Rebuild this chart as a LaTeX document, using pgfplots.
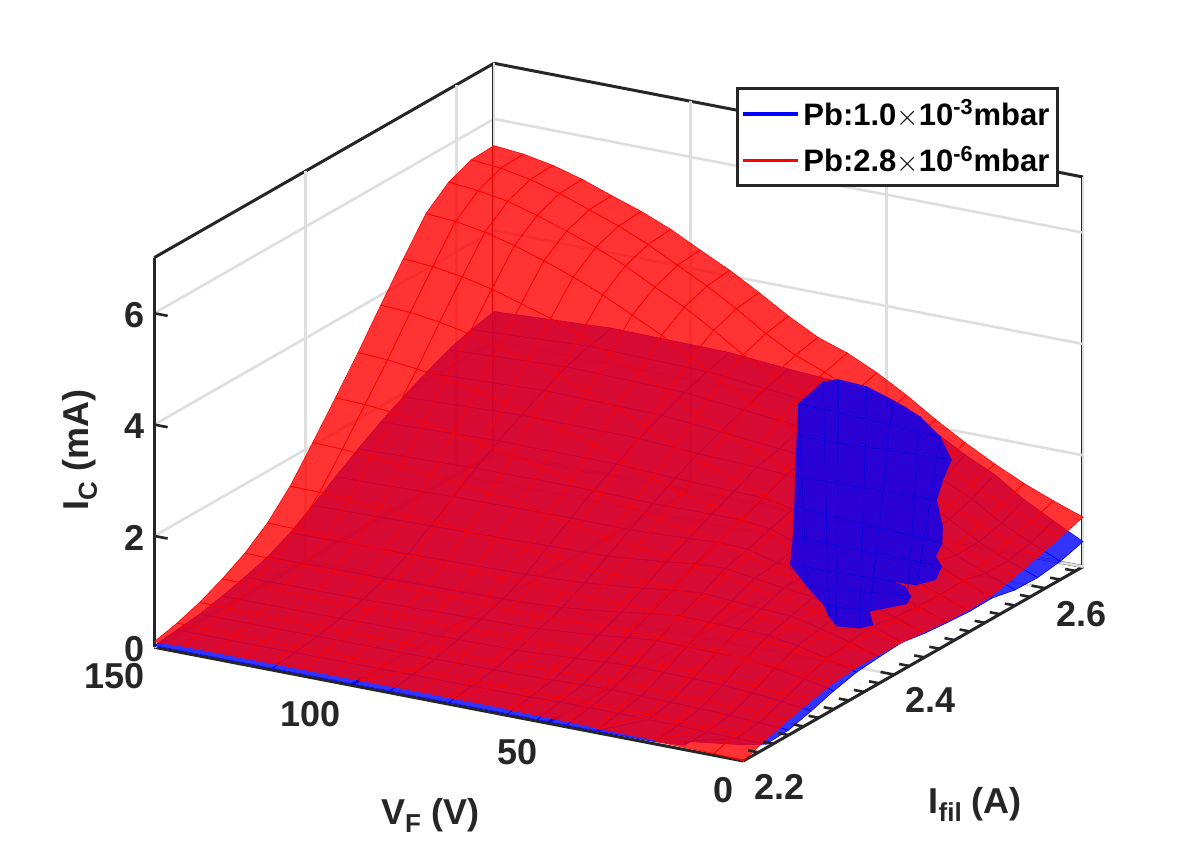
\documentclass[border=0pt]{standalone}
\usepackage{fontspec}
\setmainfont{Liberation Sans}
\usepackage{pgfplots}
\usepackage{pgfplotstable}
\pgfplotsset{compat=1.18}
\definecolor{axc}{RGB}{38,38,38}
\newcommand\sub[1]{\raisebox{-.42ex}{\fontsize{13pt}{13pt}\selectfont #1}}
% Red surface: z at V=150,142.5,...,0 (rows), I=2.20,2.23,...,2.65 (16 values per row)
\pgfplotstableread[row sep=\\,header=false]{
.10\\.20\\.34\\.53\\.76\\1.07\\1.50\\2.05\\2.62\\3.20\\3.82\\4.42\\5.00\\5.33\\5.50\\5.52\\
.12\\.20\\.34\\.53\\.75\\1.06\\1.49\\2.03\\2.60\\3.17\\3.79\\4.38\\4.96\\5.28\\5.45\\5.47\\
.12\\.19\\.33\\.52\\.74\\1.04\\1.46\\1.99\\2.55\\3.11\\3.72\\4.30\\4.87\\5.19\\5.35\\5.37\\
.12\\.19\\.32\\.50\\.72\\1.01\\1.42\\1.94\\2.48\\3.03\\3.61\\4.18\\4.73\\5.04\\5.20\\5.22\\
.12\\.19\\.32\\.49\\.70\\.98\\1.37\\1.87\\2.39\\2.92\\3.48\\4.02\\4.56\\4.86\\5.01\\5.03\\
.12\\.19\\.32\\.49\\.70\\.97\\1.34\\1.81\\2.31\\2.80\\3.34\\3.86\\4.37\\4.67\\4.82\\4.85\\
.12\\.19\\.32\\.49\\.69\\.94\\1.30\\1.74\\2.20\\2.67\\3.17\\3.66\\4.15\\4.44\\4.59\\4.63\\
.12\\.18\\.32\\.48\\.68\\.92\\1.24\\1.65\\2.08\\2.51\\2.97\\3.43\\3.89\\4.16\\4.32\\4.36\\
.12\\.18\\.32\\.48\\.67\\.90\\1.20\\1.57\\1.96\\2.35\\2.78\\3.19\\3.63\\3.90\\4.05\\4.10\\
.12\\.18\\.32\\.48\\.66\\.87\\1.14\\1.47\\1.82\\2.17\\2.55\\2.93\\3.33\\3.59\\3.74\\3.80\\
.12\\.18\\.32\\.48\\.65\\.84\\1.08\\1.37\\1.67\\1.97\\2.30\\2.64\\3.01\\3.25\\3.40\\3.48\\
.12\\.19\\.33\\.49\\.66\\.83\\1.03\\1.29\\1.55\\1.80\\2.09\\2.38\\2.73\\2.96\\3.11\\3.20\\
.12\\.20\\.35\\.51\\.68\\.84\\1.02\\1.24\\1.46\\1.68\\1.93\\2.20\\2.52\\2.76\\2.91\\3.02\\
.11\\.20\\.36\\.53\\.69\\.83\\.99\\1.17\\1.35\\1.52\\1.73\\1.96\\2.26\\2.49\\2.65\\2.77\\
.10\\.20\\.36\\.53\\.68\\.81\\.93\\1.08\\1.21\\1.34\\1.50\\1.70\\1.96\\2.18\\2.34\\2.47\\
.09\\.20\\.35\\.51\\.65\\.76\\.85\\.96\\1.05\\1.14\\1.26\\1.41\\1.64\\1.84\\1.99\\2.13\\
.08\\.19\\.34\\.50\\.63\\.71\\.78\\.85\\.91\\.95\\1.03\\1.15\\1.34\\1.53\\1.68\\1.82\\
.07\\.18\\.33\\.47\\.59\\.66\\.71\\.75\\.77\\.79\\.84\\.92\\1.09\\1.26\\1.40\\1.54\\
.05\\.17\\.31\\.45\\.56\\.61\\.64\\.66\\.66\\.65\\.67\\.72\\.86\\1.02\\1.15\\1.29\\
.03\\.16\\.30\\.42\\.52\\.57\\.58\\.58\\.55\\.52\\.52\\.56\\.68\\.82\\.94\\1.08\\
0\\.15\\.28\\.39\\.48\\.52\\.52\\.50\\.46\\.42\\.40\\.42\\.52\\.64\\.76\\.89\\
}\redtable
% Blue surface: rows at V=150,120,90,75,60,52.5,45,37.5,30,22.5,15,7.5,0
\pgfplotstableread[row sep=\\,header=false]{
.03\\.08\\.13\\.22\\.33\\.46\\.66\\.92\\1.20\\1.47\\1.72\\1.94\\2.14\\2.32\\2.45\\2.54\\
.03\\.08\\.14\\.23\\.34\\.48\\.69\\.96\\1.25\\1.53\\1.79\\2.02\\2.23\\2.42\\2.56\\2.65\\
.03\\.09\\.14\\.26\\.39\\.52\\.73\\1.01\\1.28\\1.54\\1.78\\2.01\\2.19\\2.37\\2.51\\2.62\\
.03\\.09\\.15\\.27\\.42\\.57\\.78\\1.03\\1.27\\1.51\\1.73\\1.94\\2.10\\2.26\\2.41\\2.53\\
.03\\.10\\.17\\.33\\.51\\.69\\.89\\1.13\\1.32\\1.52\\1.70\\1.90\\2.00\\2.15\\2.30\\2.46\\
.03\\.11\\.19\\.36\\.57\\.77\\.96\\1.20\\1.35\\1.52\\1.68\\1.87\\1.94\\2.07\\2.22\\2.41\\
.03\\.11\\.20\\.39\\.62\\.83\\1.01\\1.22\\1.33\\1.46\\1.59\\1.75\\1.78\\1.89\\2.05\\2.25\\
.03\\.11\\.19\\.38\\.61\\.82\\.97\\1.14\\1.19\\1.28\\1.36\\1.49\\1.47\\1.54\\1.69\\1.90\\
.03\\.10\\.18\\.37\\.60\\.80\\.93\\1.07\\1.08\\1.12\\1.16\\1.26\\1.20\\1.26\\1.39\\1.60\\
.04\\.10\\.17\\.36\\.60\\.79\\.90\\1.01\\.98\\.99\\1.00\\1.07\\.98\\1.01\\1.14\\1.35\\
.08\\.08\\.15\\.32\\.53\\.70\\.78\\.86\\.79\\.77\\.76\\.80\\.70\\.71\\.81\\1.00\\
.15\\.07\\.12\\.27\\.44\\.58\\.64\\.70\\.62\\.59\\.56\\.58\\.48\\.47\\.56\\.72\\
.29\\.07\\.09\\.20\\.33\\.43\\.47\\.50\\.43\\.39\\.36\\.37\\.28\\.27\\.33\\.45\\
}\bluetable
\begin{document}
\begin{tikzpicture}
\path[use as bounding box] (0,0) rectangle (598pt,427pt);
\begin{axis}[
  at={(309.325pt,220.925pt)},anchor=center,
  x dir=reverse,
  x={(1.9633pt,-0.379pt)},y={(377.44pt,215.89pt)},z={(0pt,27.835pt)},
  xmin=0,xmax=150,ymin=2.2,ymax=2.65,zmin=0,zmax=7,
  xtick={0,50,100,150},ytick={2.2,2.4,2.6},ztick={0,2,4,6},
  yticklabel style={/pgf/number format/fixed,/pgf/number format/fixed zerofill,/pgf/number format/precision=1},
  /pgf/number format/assume math mode=true,
  font=\bfseries\fontsize{18pt}{20pt}\selectfont,
  clip=false,
  grid=major,
  major grid style={line width=1.3pt,color=black!13},
  axis line style={line width=1.5pt,color=axc},
  tick style={draw=none},
  every tick label/.append style={text=axc},
  x tick label style={anchor=north east,xshift=-1.3pt,yshift=-4.5pt},
  y tick label style={xshift=7.5pt},
  z tick label style={xshift=-1.5pt,yshift=.5pt},
  every axis x label/.style={at={(axis description cs:.297,-.0774)},anchor=center,text=axc},
  every axis y label/.style={at={(axis description cs:.884,-.063)},anchor=center,text=axc},
  every axis z label/.style={at={(axis description cs:-.080,.4456)},anchor=center,rotate=90,text=axc},
  xlabel={V\sub{F} (V)},ylabel={I\sub{fil} (A)},zlabel={I\sub{C} (mA)},
  legend style={at={(axis description cs:.9741,.9656)},anchor=north east,draw=axc,line width=1.5pt,
    fill=white,font=\bfseries\fontsize{15.5pt}{18pt}\selectfont,row sep=5pt,inner xsep=2pt,inner ysep=3.5pt},
  legend cell align=left,
  legend image code/.code={\draw[#1,line width=1.6pt] (0pt,0pt)--(27.5pt,0pt);},
]
\addlegendimage{blue}\addlegendentry{Pb:1.0$\times$10\textsuperscript{-3}mbar}
\addlegendimage{red}\addlegendentry{Pb:2.8$\times$10\textsuperscript{-6}mbar}
% x ticks, under the surfaces
\addplot3[forget plot,axc,line width=1.3pt,unbounded coords=jump] table[row sep=\\]{
V I z\\
50 2.2 0\\50 2.217 0\\nan nan nan\\100 2.2 0\\100 2.217 0\\
};
\addplot3[surf,forget plot,shader=faceted,colormap={B}{color=(blue) color=(blue)},faceted color=blue,
  fill opacity=.8,draw opacity=1,line width=.3pt,mesh/ordering=y varies,mesh/rows=16,mesh/cols=13]
  table[x index=0,y index=0,x expr={max(150-30*floor(\coordindex/16),120-15*floor(\coordindex/16),90-7.5*floor(\coordindex/16))},
        y expr={2.2+.03*mod(\coordindex,16)},z index=0]{\bluetable};
\addplot3[surf,forget plot,shader=faceted,colormap={R}{color=(red) color=(red)},faceted color=red,
  fill opacity=.8,draw opacity=1,line width=.3pt,mesh/ordering=y varies,mesh/rows=16,mesh/cols=21]
  table[x index=0,y index=0,x expr={150-7.5*floor(\coordindex/16)},y expr={2.2+.03*mod(\coordindex,16)},z index=0]{\redtable};
% part of the blue surface that comes through the red one
\addplot3[forget plot,draw=none,fill=blue,fill opacity=.8] table[row sep=\\]{
V I z\\
64.95 2.6437 2.49\\62.25 2.65 2.52\\55.05 2.65 2.49\\48.3 2.6496 2.34\\40.05 2.6428 2.21\\32.55 2.6302 2.05\\
26.1 2.6118 1.86\\24 2.5897 1.70\\21.45 2.5681 1.54\\15.45 2.5447 1.33\\12.45 2.5285 1.19\\11.25 2.5137 1.09\\
8.25 2.506 1.01\\6.9 2.4912 .90\\9.6 2.4799 .86\\14.7 2.4754 .89\\11.55 2.4745 .85\\8.55 2.4669 .77\\
7.95 2.4579 .71\\13.65 2.4385 .65\\10.5 2.4268 .54\\12.45 2.4192 .51\\17.25 2.4133 .53\\20.55 2.42 .61\\
23.7 2.4295 .70\\30.3 2.4417 .85\\37.5 2.457 1.02\\42.15 2.4849 1.25\\47.4 2.5141 1.49\\52.8 2.5434 1.73\\
59.85 2.582 2.05\\65.7 2.6149 2.31\\
} --cycle;
% its mesh lines
\addplot3[forget plot,blue!85!black,line width=.35pt,unbounded coords=jump] table[row sep=\\]{
V I z\\
65.7 2.6149 2.31\\32.55 2.6302 2.05\\nan nan nan\\
59.85 2.582 2.05\\26.1 2.6118 1.86\\nan nan nan\\
52.8 2.5434 1.73\\21.45 2.5681 1.54\\nan nan nan\\
47.4 2.5141 1.49\\12.45 2.5285 1.19\\nan nan nan\\
42.15 2.4849 1.25\\8.25 2.506 1.01\\nan nan nan\\
37.5 2.457 1.02\\9.6 2.4799 .86\\nan nan nan\\
30.3 2.4417 .85\\8.55 2.4669 .77\\nan nan nan\\
23.7 2.4295 .70\\13.65 2.4385 .65\\nan nan nan\\
64.95 2.6437 2.49\\20.55 2.42 .61\\nan nan nan\\
62.25 2.65 2.52\\17.25 2.4133 .53\\nan nan nan\\
55.05 2.65 2.49\\12.45 2.4192 .51\\nan nan nan\\
48.3 2.6496 2.34\\13.65 2.4385 .65\\nan nan nan\\
40.05 2.6428 2.21\\7.95 2.4579 .71\\nan nan nan\\
32.55 2.6302 2.05\\9.6 2.4799 .86\\nan nan nan\\
65.7 2.6149 2.31\\30.3 2.4417 .85\\
};
% z ticks and I ticks
\addplot3[forget plot,axc,line width=1.3pt,unbounded coords=jump] table[row sep=\\]{
V I z\\
150 2.2 2\\146.6 2.2 2\\nan nan nan\\150 2.2 4\\146.6 2.2 4\\nan nan nan\\150 2.2 6\\146.6 2.2 6\\nan nan nan\\
0 2.22 0\\2.6 2.22 0\\nan nan nan\\0 2.24 0\\2.6 2.24 0\\nan nan nan\\0 2.26 0\\2.6 2.26 0\\nan nan nan\\
0 2.28 0\\2.6 2.28 0\\nan nan nan\\0 2.30 0\\2.6 2.30 0\\nan nan nan\\0 2.32 0\\2.6 2.32 0\\nan nan nan\\
0 2.34 0\\2.6 2.34 0\\nan nan nan\\0 2.36 0\\2.6 2.36 0\\nan nan nan\\0 2.38 0\\2.6 2.38 0\\nan nan nan\\
0 2.40 0\\3.5 2.40 0\\nan nan nan\\0 2.42 0\\2.6 2.42 0\\nan nan nan\\0 2.44 0\\2.6 2.44 0\\nan nan nan\\
0 2.46 0\\2.6 2.46 0\\nan nan nan\\0 2.48 0\\2.6 2.48 0\\nan nan nan\\0 2.50 0\\2.6 2.50 0\\nan nan nan\\
0 2.52 0\\2.6 2.52 0\\nan nan nan\\0 2.54 0\\2.6 2.54 0\\nan nan nan\\0 2.56 0\\2.6 2.56 0\\nan nan nan\\
0 2.58 0\\2.6 2.58 0\\nan nan nan\\0 2.60 0\\3.5 2.60 0\\nan nan nan\\0 2.62 0\\2.6 2.62 0\\nan nan nan\\
0 2.64 0\\2.6 2.64 0\\
};
\end{axis}
\end{tikzpicture}
\end{document}
